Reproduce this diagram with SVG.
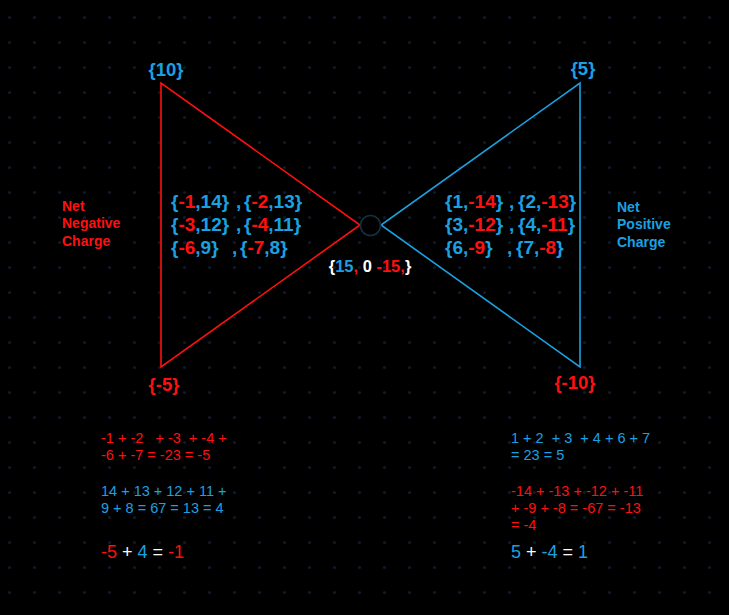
<svg xmlns="http://www.w3.org/2000/svg" width="729" height="615" viewBox="0 0 729 615">
<defs>
<pattern id="grid" x="0" y="0" width="25" height="25" patternUnits="userSpaceOnUse">
<circle cx="9.5" cy="17.5" r="1.6" fill="#0c1a2b"/>
</pattern>
<style>
.b{fill:#1ba1e2}.r{fill:#ff1010}.w{fill:#ffffff}
.lbl{font-family:"Liberation Sans",Arial,sans-serif;font-weight:bold}
.pair{font-family:"Liberation Sans",Arial,sans-serif;font-weight:bold;font-size:19px}
.net{font-family:"Liberation Sans",Arial,sans-serif;font-weight:bold;font-size:14px}
.eq{font-family:"Liberation Sans",Arial,sans-serif;font-size:14.5px}
.big{font-family:"Liberation Sans",Arial,sans-serif;font-size:18px}
</style>
</defs>
<rect width="729" height="615" fill="#000"/>
<rect width="729" height="615" fill="url(#grid)"/>

<g id="connectors">
<polygon points="161,83 161,367 360,225" fill="none" stroke="#ff1010" stroke-width="1.6"/>
<polygon points="580,83 580,367 381,225" fill="none" stroke="#1ba1e2" stroke-width="1.6"/>
</g>

<g id="center">
<circle cx="370.5" cy="225.5" r="10" fill="#000" stroke="#12303e" stroke-width="1.6"/>
<text class="lbl" x="370" y="272" font-size="16.5" text-anchor="middle" xml:space="preserve"><tspan class="w">{</tspan><tspan class="b">15</tspan><tspan class="r">,</tspan><tspan class="w"> 0 </tspan><tspan class="r">-15,</tspan><tspan class="w">}</tspan></text>
</g>

<g id="neg-triangle">
<text class="lbl b" x="166" y="76" font-size="18.5" text-anchor="middle">{10}</text>
<text class="lbl r" x="164" y="391" font-size="18.5" text-anchor="middle">{-5}</text>
<text class="pair" y="208"><tspan x="171" class="b">{</tspan><tspan class="r">-1</tspan><tspan class="b">,14}</tspan><tspan x="236" class="b">,</tspan><tspan x="244" class="b">{</tspan><tspan class="r">-2</tspan><tspan class="b">,13}</tspan></text>
<text class="pair" y="231"><tspan x="171" class="b">{</tspan><tspan class="r">-3</tspan><tspan class="b">,12}</tspan><tspan x="236" class="b">,</tspan><tspan x="244" class="b">{</tspan><tspan class="r">-4</tspan><tspan class="b">,11}</tspan></text>
<text class="pair" y="254"><tspan x="171" class="b">{</tspan><tspan class="r">-6</tspan><tspan class="b">,9}</tspan><tspan x="232" class="b">,</tspan><tspan x="240" class="b">{</tspan><tspan class="r">-7</tspan><tspan class="b">,8}</tspan></text>
<text class="net r" x="62"><tspan x="62" y="211">Net</tspan><tspan x="62" y="228">Negative</tspan><tspan x="62" y="246">Charge</tspan></text>
</g>

<g id="pos-triangle">
<text class="lbl b" x="583" y="75" font-size="18.5" text-anchor="middle">{5}</text>
<text class="lbl r" x="575" y="389" font-size="18.5" text-anchor="middle">{-10}</text>
<text class="pair" y="208"><tspan x="445" class="b">{1,</tspan><tspan class="r">-14</tspan><tspan class="b">}</tspan><tspan x="509" class="b">,</tspan><tspan x="518" class="b">{2,</tspan><tspan class="r">-13</tspan><tspan class="b">}</tspan></text>
<text class="pair" y="231"><tspan x="445" class="b">{3,</tspan><tspan class="r">-12</tspan><tspan class="b">}</tspan><tspan x="509" class="b">,</tspan><tspan x="518" class="b">{4,</tspan><tspan class="r">-11</tspan><tspan class="b">}</tspan></text>
<text class="pair" y="254"><tspan x="445" class="b">{6,</tspan><tspan class="r">-9</tspan><tspan class="b">}</tspan><tspan x="507" class="b">,</tspan><tspan x="516" class="b">{7,</tspan><tspan class="r">-8</tspan><tspan class="b">}</tspan></text>
<text class="net b"><tspan x="617" y="212">Net</tspan><tspan x="617" y="229">Positive</tspan><tspan x="617" y="247">Charge</tspan></text>
</g>

<g id="left-sums">
<text class="eq r" xml:space="preserve"><tspan x="101" y="443">-1 + -2   + -3  + -4 +</tspan><tspan x="101" y="460">-6 + -7 = -23 = -5</tspan></text>
<text class="eq b"><tspan x="101" y="496">14 + 13 + 12 + 11 +</tspan><tspan x="101" y="513">9 + 8 = 67 = 13 = 4</tspan></text>
<text class="big" x="101" y="558" xml:space="preserve"><tspan class="r">-5</tspan><tspan class="w"> + </tspan><tspan class="b">4</tspan><tspan class="w"> = </tspan><tspan class="r">-1</tspan></text>
</g>

<g id="right-sums">
<text class="eq b" xml:space="preserve"><tspan x="511" y="443">1 + 2  + 3  + 4 + 6 + 7</tspan><tspan x="511" y="460">= 23 = 5</tspan></text>
<text class="eq r"><tspan x="511" y="496">-14 + -13 + -12 + -11</tspan><tspan x="511" y="513">+ -9 + -8 = -67 = -13</tspan><tspan x="511" y="530">= -4</tspan></text>
<text class="big" x="511" y="558" xml:space="preserve"><tspan class="b">5</tspan><tspan class="w"> + </tspan><tspan class="b">-4</tspan><tspan class="w"> = </tspan><tspan class="b">1</tspan></text>
</g>
</svg>
